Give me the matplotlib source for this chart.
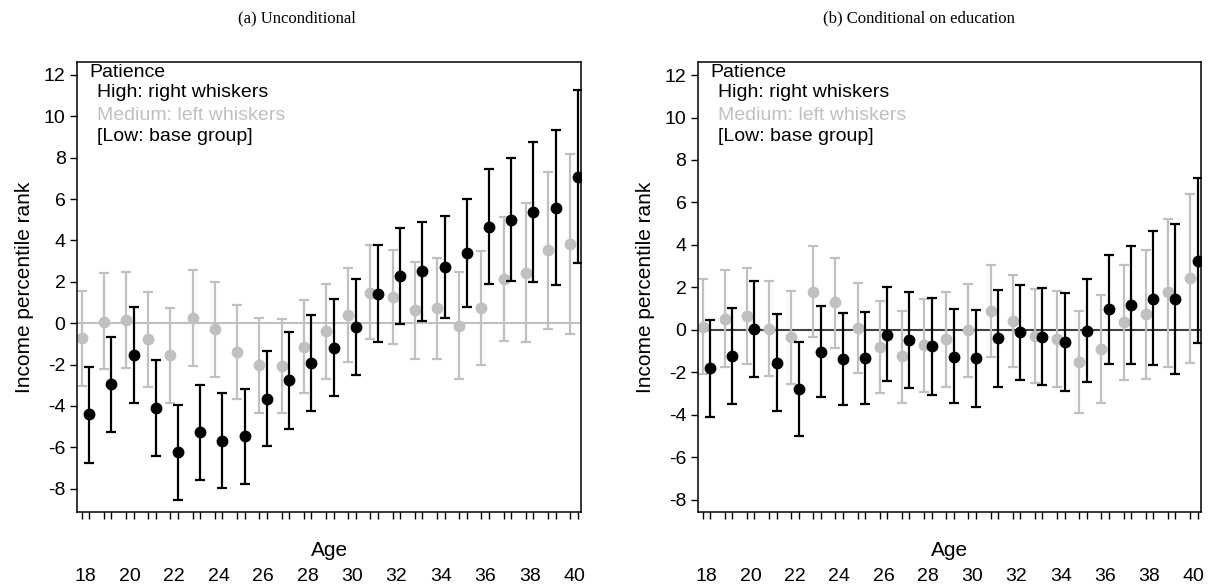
import matplotlib
matplotlib.use("Agg")
import matplotlib.pyplot as plt
import numpy as np

plt.rcParams['font.family'] = ['Liberation Sans', 'DejaVu Sans']
plt.rcParams['axes.unicode_minus'] = False

# Age groups
ages = np.arange(18, 41)

# (a) Unconditional: medium patience (left whiskers)
med_a = [-0.74, 0.06, 0.15, -0.79, -1.56, 0.26, -0.29, -1.39, -2.03, -2.06, -1.15, -0.40,
         0.37, 1.48, 1.27, 0.63, 0.71, -0.13, 0.74, 2.11, 2.42, 3.53, 3.82]
med_a_hi = [1.56, 2.44, 2.45, 1.52, 0.74, 2.56, 2.00, 0.89, 0.26, 0.21, 1.13, 1.87,
            2.65, 3.76, 3.55, 2.95, 3.16, 2.45, 3.48, 5.11, 5.79, 7.32, 8.18]
med_a_lo = [-3.05, -2.24, -2.16, -3.10, -3.85, -2.05, -2.60, -3.69, -4.34, -4.34, -3.40, -2.68,
            -1.87, -0.79, -1.00, -1.71, -1.71, -2.71, -2.02, -0.87, -0.92, -0.26, -0.52]
# (a) Unconditional: high patience (right whiskers)
high_a = [-4.40, -2.95, -1.55, -4.10, -6.25, -5.27, -5.69, -5.47, -3.66, -2.77, -1.94, -1.19,
          -0.21, 1.42, 2.29, 2.50, 2.73, 3.39, 4.65, 5.00, 5.37, 5.58, 7.08]
high_a_hi = [-2.11, -0.65, 0.76, -1.76, -3.97, -2.97, -3.39, -3.18, -1.34, -0.44, 0.40, 1.15,
             2.13, 3.76, 4.61, 4.90, 5.19, 6.00, 7.44, 8.00, 8.74, 9.32, 11.29]
high_a_lo = [-6.74, -5.26, -3.85, -6.42, -8.56, -7.58, -7.98, -7.77, -5.94, -5.10, -4.26, -3.53,
             -2.53, -0.90, -0.03, 0.10, 0.23, 0.79, 1.89, 2.02, 2.00, 1.84, 2.89]

# (b) Conditional on education: medium patience
med_b = [0.13, 0.53, 0.63, 0.05, -0.33, 1.80, 1.29, 0.08, -0.80, -1.25, -0.71, -0.44,
         -0.03, 0.88, 0.41, -0.28, -0.41, -1.51, -0.91, 0.36, 0.74, 1.77, 2.43]
med_b_hi = [2.38, 2.82, 2.92, 2.31, 1.85, 3.94, 3.40, 2.21, 1.36, 0.91, 1.47, 1.77,
            2.15, 3.04, 2.57, 1.90, 1.85, 0.88, 1.63, 3.07, 3.78, 5.24, 6.38]
med_b_lo = [-2.09, -1.77, -1.63, -2.16, -2.53, -0.33, -0.86, -2.05, -2.98, -3.47, -2.93, -2.67,
            -2.21, -1.30, -1.76, -2.51, -2.67, -3.92, -3.44, -2.37, -2.32, -1.73, -1.55]
# (b) Conditional on education: high patience
high_b = [-1.82, -1.24, 0.05, -1.55, -2.81, -1.04, -1.38, -1.33, -0.24, -0.50, -0.75, -1.28,
          -1.35, -0.38, -0.11, -0.33, -0.58, -0.05, 0.97, 1.19, 1.47, 1.46, 3.26]
high_b_hi = [0.44, 1.02, 2.32, 0.74, -0.58, 1.11, 0.77, 0.85, 2.01, 1.77, 1.52, 1.00,
             0.93, 1.87, 2.13, 1.95, 1.73, 2.38, 3.53, 3.95, 4.64, 4.97, 7.17]
high_b_lo = [-4.09, -3.51, -2.24, -3.83, -5.02, -3.18, -3.55, -3.50, -2.43, -2.76, -3.06, -3.45,
             -3.64, -2.67, -2.34, -2.60, -2.90, -2.48, -1.60, -1.60, -1.68, -2.07, -0.64]

titles = ['(a) Unconditional', '(b) Conditional on education']
age_labels = np.arange(18, 41, 2)
yticks = np.arange(-8, 13, 2)

GRAY = '#c0c0c0'
off = 0.17

fig = plt.figure(figsize=(12.14, 5.85), dpi=100)
ax_a = fig.add_axes([0.0637, 0.1248, 0.4149, 0.7687])
ax_b = fig.add_axes([0.5752, 0.1248, 0.4138, 0.7687])

panels = [
    (ax_a, med_a, med_a_lo, med_a_hi, high_a, high_a_lo, high_a_hi, (-9.13, 12.61), GRAY),
    (ax_b, med_b, med_b_lo, med_b_hi, high_b, high_b_lo, high_b_hi, (-8.58, 12.6), '#404040'),
]

for ax, m, mlo, mhi, h, hlo, hhi, ylim, zcol in panels:
    m, mlo, mhi = np.array(m), np.array(mlo), np.array(mhi)
    h, hlo, hhi = np.array(h), np.array(hlo), np.array(hhi)
    ax.axhline(0, color=zcol, lw=1.5, zorder=1)
    ax.errorbar(ages - off, m, yerr=[m - mlo, mhi - m], fmt='o', color=GRAY, ms=7.5,
                elinewidth=1.6, capsize=3.5, capthick=1.6, zorder=2)
    ax.errorbar(ages + off, h, yerr=[h - hlo, hhi - h], fmt='o', color='black', ms=7.5,
                elinewidth=1.6, capsize=3.5, capthick=1.6, zorder=3)
    ax.set_xlim(17.64, 40.31)
    ax.set_ylim(*ylim)
    ax.set_yticks(yticks)
    ax.set_xticks(np.sort(np.concatenate([ages - off, ages + off])))
    ax.tick_params(axis='x', direction='out', length=5, width=1, labelbottom=False)
    ax.tick_params(axis='y', direction='out', length=5, width=1, labelsize=14)
    for s in ax.spines.values():
        s.set_linewidth(1.1)
    ax.set_ylabel('Income percentile rank', fontsize=15)
    ax.yaxis.set_label_coords(-0.087, 0.5)
    ax.text(0.5, -0.085, 'Age', transform=ax.transAxes, ha='center', va='center', fontsize=15)
    sec = ax.secondary_xaxis(-0.124)
    sec.set_xticks(age_labels)
    sec.tick_params(length=0, pad=0, labelsize=14)
    sec.spines['bottom'].set_visible(False)

    # legend as text
    ax.text(0.024, 0.978, 'Patience', transform=ax.transAxes, va='center', fontsize=14)
    ax.text(0.039, 0.932, 'High: right whiskers', transform=ax.transAxes, va='center', fontsize=14)
    ax.text(0.039, 0.882, 'Medium: left whiskers', transform=ax.transAxes, va='center',
            fontsize=14, color=GRAY)
    ax.text(0.039, 0.834, '[Low: base group]', transform=ax.transAxes, va='center', fontsize=14)

fig.text(0.245, 0.969, titles[0], ha='center', va='center', fontsize=12, family='Liberation Serif')
fig.text(0.757, 0.969, titles[1], ha='center', va='center', fontsize=12, family='Liberation Serif')

fig.savefig('out.png', dpi=100)
